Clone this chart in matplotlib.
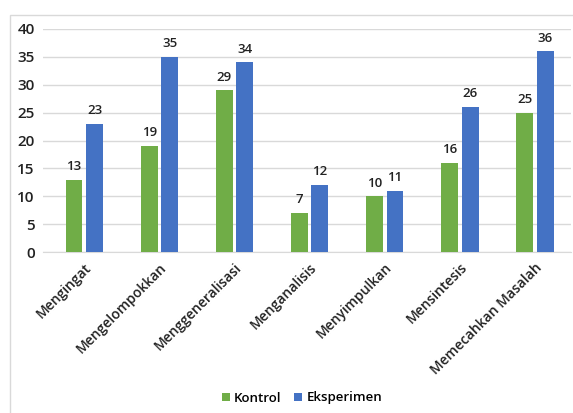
import numpy as np
import matplotlib.pyplot as plt
from matplotlib.patches import Rectangle

plt.rcParams['font.family'] = ['Open Sans', 'DejaVu Sans']

categories = ['Mengingat', 'Mengelompokkan', 'Menggeneralisasi', 'Menganalisis',
              'Menyimpulkan', 'Mensintesis', 'Memecahkan Masalah']
kontrol = [13, 19, 29, 7, 10, 16, 25]
eksperimen = [23, 35, 34, 12, 11, 26, 36]

green = '#70AD47'
blue = '#4472C4'

fig = plt.figure(figsize=(5.73, 4.13), dpi=100)
# outer chart frame
fig.patches.append(Rectangle((10 / 573, -0.01), 1.0, (413 - 15) / 413 + 0.01,
                             transform=fig.transFigure, fill=False,
                             edgecolor='#D9D9D9', linewidth=1))

ax = fig.add_axes([43 / 573, 161 / 413, (571 - 43) / 573, (384 - 161) / 413])

x = np.arange(len(categories))
w = 0.225
off = 0.137
b1 = ax.bar(x - off, kontrol, w, color=green, label='Kontrol', zorder=3)
b2 = ax.bar(x + off, eksperimen, w, color=blue, label='Eksperimen', zorder=3)

for bars in (b1, b2):
    for r in bars:
        ax.text(r.get_x() + r.get_width() / 2, r.get_height() + 1.2, str(int(r.get_height())),
                ha='center', va='bottom', fontsize=9.5, fontweight='semibold', color='#222222')

ax.set_ylim(0, 40)
ax.set_xlim(-0.55, 6.48)
ax.set_yticks(range(0, 41, 5))
ax.yaxis.grid(True, color='#D9D9D9', linewidth=1, zorder=0)
for s in ['top', 'right', 'left']:
    ax.spines[s].set_visible(False)
ax.spines['bottom'].set_color('#D9D9D9')
ax.tick_params(axis='both', length=0, colors='#222222')
ax.tick_params(axis='y', labelsize=11, pad=6)
ax.set_yticklabels([str(v) for v in range(0, 41, 5)], fontweight='semibold')
ax.set_xticks(x)
ax.set_xticklabels(categories, rotation=45, ha='right', rotation_mode='anchor',
                   fontsize=10, fontweight='semibold')
ax.tick_params(axis='x', pad=6)

fig.legend(handles=[b1, b2], loc='center', bbox_to_anchor=(302 / 573, 1 - 398 / 413),
           ncol=2, frameon=False, handlelength=0.6, handleheight=0.6,
           handletextpad=0.3, columnspacing=1.0, prop={'weight': 'semibold', 'size': 9.5})

fig.savefig('out.png', dpi=100)
